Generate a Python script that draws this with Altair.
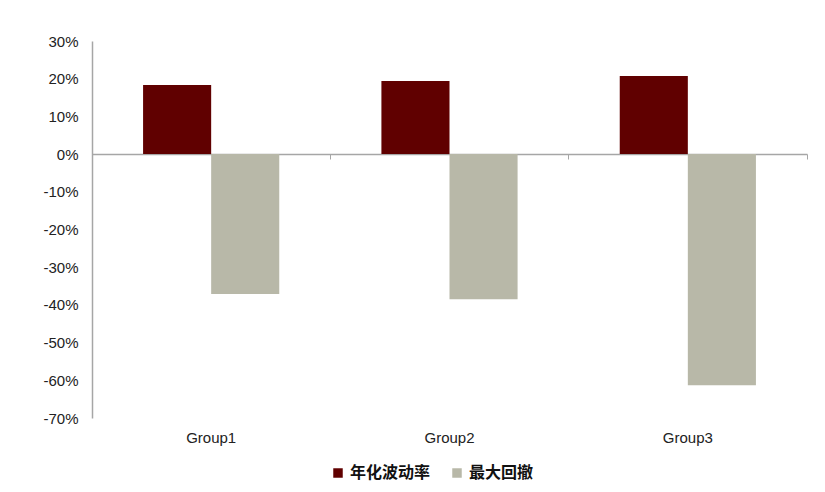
import altair as alt
import pandas as pd

groups = ["Group1", "Group2", "Group3"]
series = ["年化波动率", "最大回撤"]
volatility = [0.183, 0.194, 0.207]
drawdown = [-0.371, -0.385, -0.613]
colors = ["#600000", "#B8B8A8"]
y_ticks = [0.3, 0.2, 0.1, 0, -0.1, -0.2, -0.3, -0.4, -0.5, -0.6, -0.7]

rows = []
for g, v, d in zip(groups, volatility, drawdown):
    rows.append({"group": g, "series": series[0], "value": v})
    rows.append({"group": g, "series": series[1], "value": d})
df = pd.DataFrame(rows)

xscale = alt.Scale(domain=groups, paddingInner=0.4286, paddingOuter=0.2143)
yscale = alt.Scale(domain=[-0.7, 0.3], nice=False)
y_axis = alt.Axis(title=None, values=y_ticks,
                  labelExpr="round(datum.value * 100) + '%'",
                  grid=False, ticks=False, domainColor="#A6A6A6", domainWidth=1.5,
                  labelPadding=14, labelFontSize=15, labelColor="#222222",
                  labelFont="Liberation Sans")

bars = alt.Chart(df).mark_bar().encode(
    x=alt.X("group:N", scale=xscale, sort=groups,
            axis=alt.Axis(title=None, labelAngle=0, domain=False, ticks=False,
                          labelPadding=12, labelFontSize=15, labelColor="#222222",
                          labelFont="Liberation Sans")),
    xOffset=alt.XOffset("series:N", sort=series,
                        scale=alt.Scale(paddingInner=0, paddingOuter=0)),
    y=alt.Y("value:Q", scale=yscale, axis=y_axis),
    color=alt.Color("series:N", sort=series,
                    scale=alt.Scale(domain=series, range=colors),
                    legend=alt.Legend(title=None, orient="none", direction="horizontal",
                                      legendX=238, legendY=424,
                                      symbolType="square", symbolSize=90,
                                      symbolStrokeWidth=0,
                                      labelFont="Noto Sans CJK SC", labelFontSize=16,
                                      labelFontWeight="bold", labelColor="#111111",
                                      columnPadding=18)),
)

zero_axis = alt.Chart(df).mark_point(opacity=0).encode(
    x=alt.X("group:N", scale=xscale, sort=groups,
            axis=alt.Axis(title=None, labels=False, domainColor="#A6A6A6", domainWidth=1.5,
                          tickColor="#A6A6A6", tickSize=5, tickOffset=119,
                          offset=-264, orient="bottom")),
    y=alt.Y("value:Q", scale=yscale, axis=y_axis),
)

chart = alt.layer(bars, zero_axis).resolve_axis(x="independent").properties(
    width=715, height=377,
    autosize=alt.AutoSizeParams(type="none"),
    padding={"left": 84, "top": 33, "right": 10, "bottom": 66},
).configure_view(stroke=None)

chart.save("out.html", embed_options={"renderer": "svg", "actions": False})
